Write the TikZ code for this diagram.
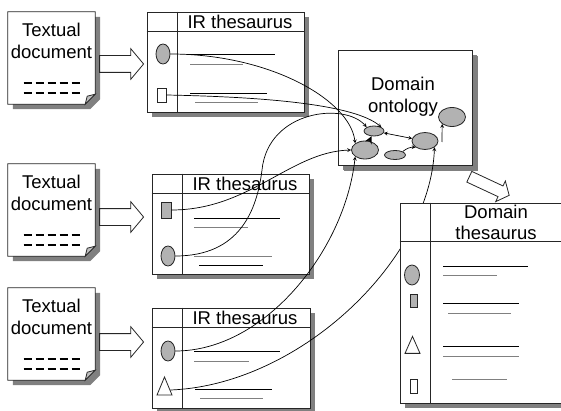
\documentclass[tikz,border=0pt]{standalone}
\usepackage{fontspec}
\setmainfont{Liberation Sans}
\usetikzlibrary{positioning}
\usetikzlibrary{calc}
\usetikzlibrary{shapes.geometric,shapes.arrows}
\usetikzlibrary{shadows}

% one text document with folded corner and two dashed rows
\newcommand{\textdoc}[2]{%
	\node[docbody] (#1) at (#2) {};
	\draw[boxline, fill=white, boxshadow] (#1.north west) -- (#1.north east)
		-- ([yshift=10pt]#1.south east) -- ([xshift=-10pt]#1.south east) -- (#1.south west) -- cycle;
	\draw[boxline, fill=black!25] ([yshift=10pt]#1.south east) -- ([xshift=-8pt,yshift=8pt]#1.south east)
		-- ([xshift=-10pt]#1.south east) -- cycle;
	\node (#1t) at ([yshift=17pt]#1.center) {Textual\\document};
	\draw[dashline] ([xshift=-28pt,yshift=21pt]#1.south) -- ([xshift=28pt,yshift=21pt]#1.south);
	\draw[dashline] ([xshift=-28pt,yshift=11pt]#1.south) -- ([xshift=28pt,yshift=11pt]#1.south);
}
% thesaurus table: name, centre, width, height, header depth
\newcommand{\thesframe}[5]{%
	\node[thesbox, minimum width=#3, minimum height=#4] (#1) at (#2) {};
	\draw[boxline] ([xshift=31pt]#1.north west) -- ([xshift=31pt]#1.south west);
	\draw[boxline] ([yshift=-#5]#1.north west) -- ([yshift=-#5]#1.north east);
}

\begin{document}
\begin{tikzpicture}[x=1pt,y=1pt,
		every node/.style={inner sep=0pt, align=center, font=\fontsize{18.5}{21.5}\selectfont},
		boxline/.style={draw=black!85, line width=0.8pt},
		boxshadow/.style={drop shadow={fill=black!50, opacity=1, shadow xshift=5pt, shadow yshift=-5pt}},
		docbody/.style={minimum width=87pt, minimum height=92pt},
		thesbox/.style={boxline, fill=white, boxshadow},
		dashline/.style={line width=1.8pt, dash pattern=on 8pt off 4pt},
		txtline/.style={line width=0.8pt},
		blockarrow/.style={single arrow, draw=black!85, fill=white, line width=0.8pt, inner sep=8pt,
			minimum height=44pt, single arrow head extend=7pt, single arrow tip angle=100},
		termoval/.style={ellipse, draw=black!85, fill=black!30, line width=0.8pt},
		termbox/.style={rectangle, draw=black!85, fill=white, line width=0.8pt},
		termtri/.style={isosceles triangle, isosceles triangle stretches, shape border rotate=90,
			draw=black!85, fill=white, line width=0.8pt},
		link/.style={->, >=stealth, line width=0.7pt}
	]
	\useasboundingbox (0,0) rectangle (561,410);

	%% source documents
	\textdoc{doc1}{51.5,352}
	\textdoc{doc2}{51.5,200}
	\textdoc{doc3}{51.5,76}
	\node[blockarrow, right=4pt of doc1, yshift=-6pt] (a1) {};
	\node[blockarrow, right=4pt of doc2, yshift=-7pt] (a2) {};
	\node[blockarrow, right=4pt of doc3, yshift=-8pt] (a3) {};

	%% IR thesauri
	\thesframe{ir1}{225.5,348}{157pt}{100pt}{20pt}
	\node (ir1t) at ($(ir1.north)+(14.5,-10)$) {IR thesaurus};
	\node[termoval, minimum width=14pt, minimum height=20pt] (t11) at (163,356) {};
	\node[termbox, minimum width=9pt, minimum height=14pt] (t12) at (161.5,315) {};
	\draw[txtline] (190,356) -- (275,356) (190,317) -- (267,317);
	\draw[txtline, black!50] (190,346) -- (243,346) (195,308) -- (258,308);

	\thesframe{ir2}{230.5,186}{157pt}{100pt}{20pt}
	\node (ir2t) at ($(ir2.north)+(14.5,-10)$) {IR thesaurus};
	\node[termbox, fill=black!30, minimum width=10pt, minimum height=16pt] (t21) at (166,200) {};
	\node[termoval, minimum width=14pt, minimum height=20pt] (t22) at (168,154) {};
	\draw[txtline] (194,192) -- (280,192) (199,145) -- (263,145);
	\draw[txtline, black!50] (194,183) -- (248,183) (194,154) -- (272,154);

	\thesframe{ir3}{231,52}{158pt}{100pt}{20pt}
	\node (ir3t) at ($(ir3.north)+(14,-10)$) {IR thesaurus};
	\node[termoval, minimum width=14pt, minimum height=20pt] (t31) at (168,59) {};
	\node[termtri, minimum width=15pt, minimum height=18pt] (t32) at (164.5,20) {};
	\draw[txtline] (194,59) -- (280,59) (195,21) -- (272,21);
	\draw[txtline, black!50] (194,49) -- (249,49) (200,12) -- (263,12);

	%% domain ontology
	\node[thesbox, drop shadow={fill=black!50, opacity=1, shadow xshift=6pt, shadow yshift=-6pt},
		minimum width=134pt, minimum height=115pt] (onto) at (405,302.5) {};
	\node (ontot) at (403,313.5) {Domain\\ontology};
	\node[termoval, minimum width=20pt, minimum height=10pt] (o1) at (374,279) {};
	\node[termoval, minimum width=27pt, minimum height=18pt] (o2) at (365,260) {};
	\node[termoval, minimum width=21pt, minimum height=9pt] (o3) at (395,255) {};
	\node[termoval, minimum width=26pt, minimum height=17pt] (o4) at (425,269) {};
	\node[termoval, minimum width=27pt, minimum height=19pt] (o5) at (452,293) {};
	\coordinate (lift) at (442,268);
	\draw[link, line width=2.2pt] (o2) -- (o1);
	\draw[link, <->] (o1) -- (o4);
	\draw[link] (o3.north east) to[bend left=20] (o4.south west);
	\draw[link] (lift) -- (o5.south west);

	%% terms mapped onto the ontology
	\draw[link] (t11.east) .. controls (270,356) and (350,310) .. (o2.north west);
	\draw[link] (t12.east) .. controls (270,313) and (355,305) .. (o1.north east);
	\draw[link] (t22.east) .. controls (240,154) and (257,200) .. (262,240)
		.. controls (268,300) and (345,308) .. (o1.north west);
	\draw[link] (t21.east) .. controls (250,200) and (290,258) .. (o2.west);
	\draw[link] (t31.east) .. controls (265,59) and (345,160) .. (o2.south west);
	\draw[link] (t32.east) .. controls (300,25) and (430,150) .. (o4.south east);

	%% domain thesaurus
	\node[blockarrow, rotate=-25, inner sep=5.5pt, minimum height=44pt,
		single arrow head extend=5.5pt] (a4) at (487,225) {};
	\thesframe{dth}{490,107}{180pt}{200pt}{39pt}
	\node (dtht) at (496,187.5) {Domain\\thesaurus};
	\node[termoval, minimum width=15pt, minimum height=20pt] (d1) at (412,135) {};
	\node[termbox, fill=black!30, minimum width=7pt, minimum height=13pt] (d2) at (413.5,109.5) {};
	\node[termtri, minimum width=15pt, minimum height=17pt] (d3) at (412.5,61.5) {};
	\node[termbox, minimum width=7pt, minimum height=14pt] (d4) at (413.5,24) {};
	\draw[txtline] (443,144) -- (528,144) (443,107) -- (519,107) (443,64) -- (519,64);
	\draw[txtline, black!50] (443,135) -- (497,135) (448,97) -- (511,97)
		(443,54) -- (519,54) (452,31) -- (507,31);
\end{tikzpicture}
\end{document}
